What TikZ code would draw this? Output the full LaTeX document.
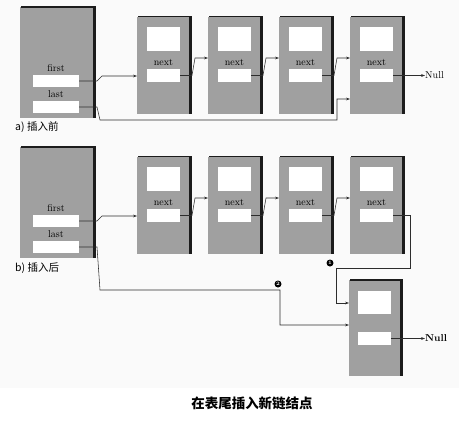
\documentclass[tikz,border=0pt]{standalone}
\usepackage{fontspec}
\newfontfamily\cjk{Noto Sans CJK SC}
\usetikzlibrary{arrows.meta}
\definecolor{boxgray}{RGB}{160,160,160}
\definecolor{rim}{RGB}{28,28,28}
\definecolor{wire}{RGB}{45,45,45}
\newcommand\boxrim[1]{%
  \fill[rim] ([xshift=1pt,yshift=0.7pt]#1.north west) rectangle ([xshift=3pt,yshift=-0.8pt]#1.north east);
  \fill[rim] (#1.north east) rectangle ([xshift=3pt]#1.south east);}
\begin{document}
\begin{tikzpicture}[x=1pt,y=-1pt,
  body/.style={fill=boxgray,inner sep=0pt,outer sep=0pt,minimum width=52pt,minimum height=97pt},
  hbody/.style={fill=boxgray,inner sep=0pt,outer sep=0pt,minimum width=73pt,minimum height=111pt},
  field/.style={fill=white,inner sep=0pt,outer sep=0pt,minimum width=33pt,minimum height=13pt},
  tfield/.style={fill=white,inner sep=0pt,outer sep=0pt,minimum width=33pt,minimum height=24pt},
  hfield/.style={fill=white,inner sep=0pt,outer sep=0pt,minimum width=46pt,minimum height=12pt},
  lbl/.style={inner sep=0pt,font=\fontsize{10}{10}\selectfont},
  partlbl/.style={inner sep=0pt,anchor=west,font=\cjk\fontsize{10.5}{10.5}\selectfont},
  arr/.style={draw=wire,line width=0.55pt,-{Stealth[length=4pt,width=2.8pt]}},
  badge/.style={circle,fill=black,text=white,inner sep=0pt,minimum size=7pt,font=\fontsize{5}{5}\selectfont\bfseries}]
\useasboundingbox (0,0) rectangle (459,424);
\fill[gray!4] (0,0) rectangle (459,388);
\foreach \p/\dy in {a/0,b/140}{
 \begin{scope}[yshift=-\dy pt]
  \node[hbody] (\p h) at (56.5,62.5) {};
  \boxrim{\p h}
  \node[hfield] (\p hf) at (56,81) {};
  \node[hfield] (\p hl) at (56,107) {};
  \node[lbl] (\p hft) at (56,68) {first};
  \node[lbl] (\p hlt) at (56,94) {last};
  \foreach \i/\cx in {1/163,2/234,3/305,4/376}{
    \node[body] (\p\i) at (\cx,65) {};
    \boxrim{\p\i}
    \node[tfield] (\p\i t) at (\cx+0.5,39) {};
    \node[lbl] (\p\i l) at (\cx+0.5,62) {next};
    \node[field] (\p\i n) at (\cx+0.5,75.5) {};
  }
  \draw[arr] (\p hf.east) -- ++(18,0) -- ++(5,-5) -- (\p1.west |- 0,76);
  \foreach \i/\j in {1/2,2/3,3/4}{
    \draw[arr] (\p\i n.east) -- ++(12,0) -- ++(3,-17.5) -- (\p\j.west |- 0,58);
  }
 \end{scope}
}
% part a
\node[lbl,anchor=west] (anull) at (425,75.5) {Null};
\draw[arr] (a4n.east) -- (anull.west);
\coordinate (aw1) at (100,120);
\coordinate (aw2) at (337,120);
\coordinate (aw3) at (337,99);
\draw[arr] (ahl.east) -- ++(18,0) -- (aw1) -- (aw2) -- (aw3) -- (a4.west |- aw3);
\node[partlbl] (acap) at (15,127) {a) 插入前};
% part b
\node[partlbl] (bcap) at (15,268) {b) 插入后};
\node[body,minimum width=51pt,minimum height=96pt] (b5) at (374.5,328) {};
\boxrim{b5}
\node[tfield,minimum height=23pt] (b5t) at (374.5,302.5) {};
\node[field] (b5n) at (374.5,338.5) {};
\node[lbl,anchor=west,font=\fontsize{10}{10}\selectfont\bfseries] (bnull) at (425,338.5) {Null};
\draw[arr] (b5n.east) -- (bnull.west);
\coordinate (bw1) at (410,215.5);
\coordinate (bw2) at (410,268);
\coordinate (bw3) at (336,268);
\coordinate (bw4) at (336,303);
\draw[arr] (b4n.east) -- (bw1) -- (bw2) -- (bw3) -- (bw4) -- (b5.west |- bw4);
\coordinate (bv1) at (100,290);
\coordinate (bv2) at (280,290);
\coordinate (bv3) at (280,325);
\draw[arr] (bhl.east) -- ++(18,0) -- (bv1) -- (bv2) -- (bv3) -- (b5.west |- bv3);
\node[badge] (m1) at (330,263) {1};
\node[badge] (m2) at (278,284) {2};
\node[inner sep=0pt,font=\cjk\bfseries\fontsize{13.5}{13.5}\selectfont] (title) at (252,403) {在表尾插入新链结点};
\end{tikzpicture}
\end{document}
